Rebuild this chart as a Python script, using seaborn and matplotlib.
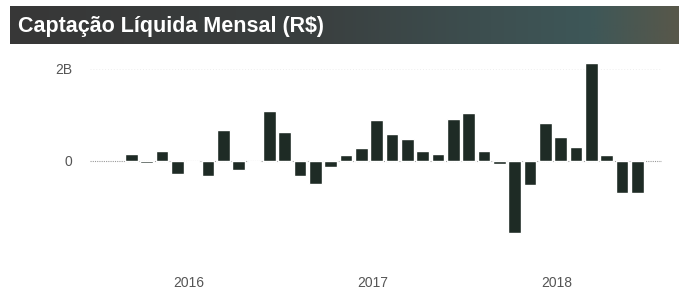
import matplotlib
matplotlib.use('Agg')
import matplotlib.pyplot as plt
import seaborn as sns
import pandas as pd
import numpy as np
from matplotlib.colors import LinearSegmentedColormap

# Monthly net inflow, Mar 2016 - Dec 2018 (R$ billions)
months = pd.date_range('2016-03-01', '2018-12-01', freq='MS').strftime('%Y-%m').tolist()
values = [0.15, -0.05, 0.22, -0.28, -0.03, -0.33, 0.67, -0.21, -0.03, 1.09,
          0.62, -0.34, -0.51, -0.14, 0.12, 0.28, 0.88, 0.58, 0.48, 0.21,
          0.14, 0.91, 1.04, 0.21, -0.06, -1.57, -0.53, 0.83, 0.51, 0.30,
          2.13, 0.13, -0.70, -0.70]
year_labels = ['2016', '2017', '2018']
ytick_values = [0, 2]
ytick_labels = ['0', '2B']
title = 'Captação Líquida Mensal (R$)'

df = pd.DataFrame({'month': months, 'value': values})

sns.set_theme(style='white')
plt.rcParams['font.family'] = ['Liberation Sans', 'DejaVu Sans']

W, H = 692, 293
fig = plt.figure(figsize=(W / 100, H / 100), dpi=100)

# title banner with a dark gradient
bax = fig.add_axes([10 / W, 1 - 44 / H, 669 / W, 38 / H])
cmap = LinearSegmentedColormap.from_list(
    'banner', [(0, '#373737'), (0.45, '#3a3f3f'), (0.72, '#3d4f50'),
               (0.87, '#3e5758'), (1.0, '#58574a')])
bax.imshow(np.linspace(0, 1, 256)[None, :], aspect='auto', cmap=cmap,
           extent=[0, 1, 0, 1])
bax.set_axis_off()
bax.text(8 / 669, 0.47, title, color='white', fontsize=15.5, fontweight='bold',
         va='center', ha='left', transform=bax.transAxes)

# bar chart
ax = fig.add_axes([90 / W, 1 - 245 / H, 572 / W, 190 / H])
sns.barplot(data=df, x='month', y='value', color='#1e2b25', width=0.83,
            saturation=1, ax=ax, zorder=3)
ax.axhline(0, color='#9a9a9a', lw=0.8, ls=(0, (1, 1)), zorder=1)
ax.axhline(2, color='#efefef', lw=0.7, ls=(0, (1, 2)), zorder=1)
ax.set_xlim(-2.7, 34.6)
ax.set_ylim(-1.83, 2.30)
ax.set_xticks([3.75, 15.75, 27.75])
ax.set_xticklabels(year_labels, color='#555555', fontsize=10)
ax.set_yticks(ytick_values)
ax.set_yticklabels(ytick_labels, color='#555555', fontsize=10)
ax.tick_params(axis='x', length=0, pad=22)
ax.tick_params(axis='y', length=0, pad=13)
ax.set_xlabel('')
ax.set_ylabel('')
sns.despine(ax=ax, left=True, bottom=True)

fig.savefig('out.png', dpi=100)
